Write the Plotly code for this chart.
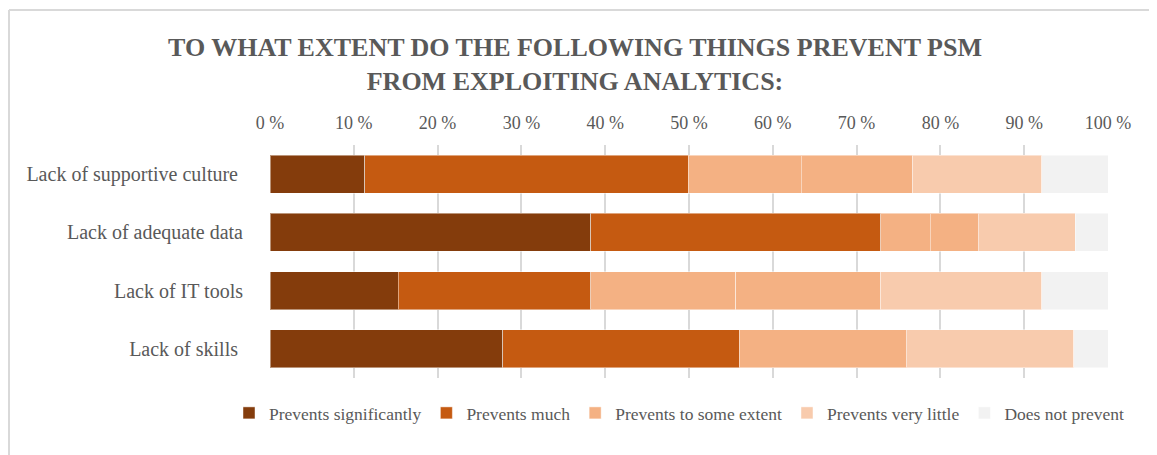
import plotly.graph_objects as go

categories = ["Lack of supportive culture ", "Lack of adequate data", "Lack of IT tools", "Lack of skills "]
prevents_significantly = [11.3, 38.3, 15.3, 27.8]
prevents_much = [38.6, 34.6, 23.0, 28.2]
some_extent_a = [13.5, 5.9, 17.3, 19.9]
some_extent_b = [13.3, 5.7, 17.3, 0.0]
very_little = [15.4, 11.6, 19.2, 20.0]
does_not_prevent = [7.9, 3.9, 7.9, 4.1]
tick_values = [0, 10, 20, 30, 40, 50, 60, 70, 80, 90, 100]
tick_labels = [f"{v} %" for v in tick_values]

series = [
    ("Prevents significantly", prevents_significantly, "#843C0C", True, "g1"),
    ("Prevents much", prevents_much, "#C55A11", True, "g2"),
    ("Prevents to some extent", some_extent_a, "#F4B183", True, "g3"),
    ("Prevents to some extent", some_extent_b, "#F4B183", False, "g3"),
    ("Prevents very little", very_little, "#F8CBAD", True, "g4"),
    ("Does not prevent", does_not_prevent, "#F2F2F2", True, "g5"),
]

fig = go.Figure()
for name, vals, color, show, grp in series:
    fig.add_trace(go.Bar(
        y=categories, x=vals, name=name, orientation="h",
        marker=dict(color=color, line=dict(color="rgba(255,255,255,0.45)", width=1)),
        showlegend=show, legendgroup=grp,
    ))

# page is offset by the 8px body margin; coordinates below are figure coordinates
W, H = 1157, 455
L, T = 262, 137
pw, ph = 838, 233
R, B = W - L - pw, H - T - ph

def px(x):
    return (x - L) / pw

def py(y):
    return (T + ph - y) / ph

grey = "#595959"
fig.update_layout(
    width=W, height=H,
    barmode="stack", bargap=0.35,
    margin=dict(l=L, r=R, t=T, b=B, autoexpand=False),
    paper_bgcolor="white", plot_bgcolor="white",
    font=dict(family="Liberation Serif", color=grey, size=18),
    title=dict(
        text="<b>TO WHAT EXTENT DO THE FOLLOWING THINGS PREVENT PSM<br>FROM EXPLOITING ANALYTICS:</b>",
        x=567 / W, xanchor="center", xref="container",
        y=1 - 48 / H, yanchor="middle", yref="container",
        font=dict(family="Liberation Serif", size=26, color=grey),
    ),
    xaxis=dict(
        side="top", range=[0, 100], tickvals=tick_values, ticktext=tick_labels,
        showgrid=True, gridcolor="#D9D9D9", gridwidth=1.5,
        zeroline=False, showline=False, ticks="", ticklabelstandoff=11,
        tickfont=dict(size=18, color=grey), fixedrange=True,
    ),
    yaxis=dict(
        autorange="reversed", ticks="outside", ticklen=22, tickcolor="rgba(0,0,0,0)",
        showline=False, tickfont=dict(size=20, color=grey),
    ),
    legend=dict(
        orientation="h", x=px(221), xanchor="left",
        y=py(405), yanchor="middle",
        font=dict(size=17.5, color=grey), traceorder="normal",
        itemwidth=30, tracegroupgap=0,
    ),
    shapes=[
        dict(type="line", xref="paper", yref="paper", x0=px(1), x1=px(1170), y0=py(2), y1=py(2),
             line=dict(color="#D9D9D9", width=2)),
        dict(type="line", xref="paper", yref="paper", x0=px(1), x1=px(1), y0=py(2), y1=py(470),
             line=dict(color="#D9D9D9", width=2)),
    ],
)

fig.write_html("out.html")
